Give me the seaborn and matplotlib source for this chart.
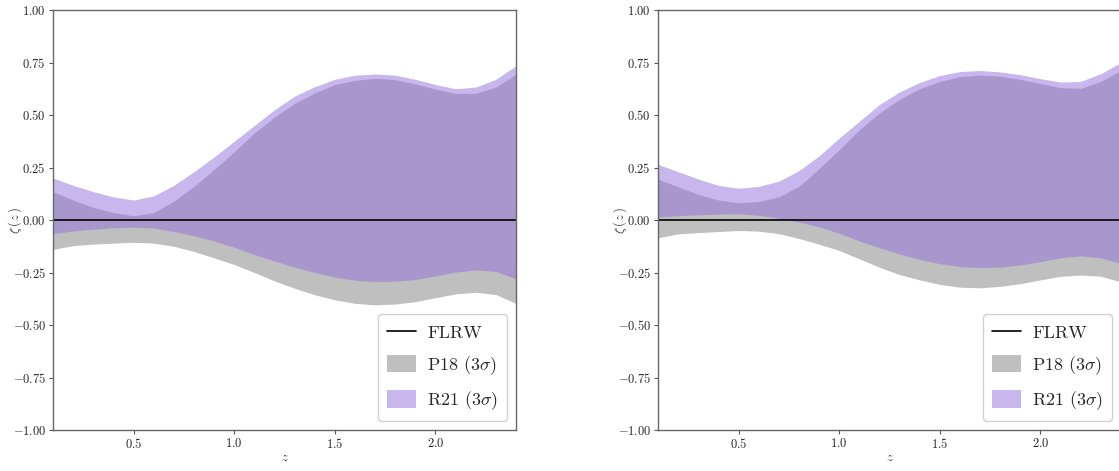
import numpy as np
import matplotlib
matplotlib.use("Agg")
import matplotlib.pyplot as plt
import seaborn as sns

# redshift grid
z = [0.1, 0.2, 0.3, 0.4, 0.5, 0.6, 0.7, 0.8, 0.9, 1.0, 1.1, 1.2,
     1.3, 1.4, 1.5, 1.6, 1.7, 1.8, 1.9, 2.0, 2.1, 2.2, 2.3, 2.4]
flrw = [0.0] * len(z)

# left panel
left_p18_lo = [-0.14, -0.122, -0.115, -0.11, -0.106, -0.11, -0.125, -0.15, -0.18, -0.212, -0.25, -0.29,
               -0.325, -0.356, -0.38, -0.397, -0.404, -0.40, -0.389, -0.37, -0.352, -0.344, -0.355, -0.397]
left_p18_hi = [0.135, 0.095, 0.06, 0.035, 0.02, 0.035, 0.09, 0.16, 0.24, 0.325, 0.415, 0.49,
               0.555, 0.605, 0.645, 0.665, 0.675, 0.668, 0.648, 0.623, 0.603, 0.603, 0.633, 0.695]
left_r21_lo = [-0.065, -0.052, -0.044, -0.037, -0.034, -0.038, -0.055, -0.075, -0.10, -0.13, -0.165, -0.195,
               -0.225, -0.25, -0.272, -0.287, -0.293, -0.292, -0.283, -0.266, -0.248, -0.238, -0.245, -0.28]
left_r21_hi = [0.20, 0.165, 0.135, 0.11, 0.095, 0.115, 0.165, 0.23, 0.30, 0.375, 0.45, 0.525,
               0.59, 0.635, 0.67, 0.69, 0.695, 0.69, 0.67, 0.645, 0.625, 0.633, 0.67, 0.735]

# right panel
right_p18_lo = [-0.085, -0.066, -0.06, -0.055, -0.05, -0.053, -0.065, -0.088, -0.115, -0.145, -0.185, -0.225,
                -0.26, -0.285, -0.307, -0.32, -0.323, -0.316, -0.303, -0.285, -0.268, -0.262, -0.268, -0.295]
right_p18_hi = [0.195, 0.158, 0.122, 0.095, 0.082, 0.088, 0.11, 0.16, 0.245, 0.335, 0.43, 0.51,
                0.575, 0.625, 0.66, 0.683, 0.69, 0.685, 0.67, 0.65, 0.63, 0.627, 0.66, 0.712]
right_r21_lo = [0.015, 0.02, 0.025, 0.028, 0.03, 0.022, 0.008, -0.01, -0.033, -0.063, -0.10, -0.132,
                -0.162, -0.188, -0.208, -0.222, -0.227, -0.224, -0.214, -0.198, -0.18, -0.171, -0.18, -0.208]
right_r21_hi = [0.265, 0.23, 0.195, 0.165, 0.151, 0.16, 0.185, 0.235, 0.305, 0.39, 0.47, 0.55,
                0.61, 0.655, 0.688, 0.707, 0.712, 0.705, 0.692, 0.673, 0.657, 0.66, 0.697, 0.75]

yticks = [-1.0, -0.75, -0.5, -0.25, 0.0, 0.25, 0.5, 0.75, 1.0]
xticks = [0.5, 1.0, 1.5, 2.0]

sns.set_style("ticks")
plt.rcParams["font.family"] = "serif"
plt.rcParams["font.serif"] = ["cmr10"]
plt.rcParams["mathtext.fontset"] = "cm"
plt.rcParams["axes.formatter.use_mathtext"] = True


def draw_panel(ax, p18_lo, p18_hi, r21_lo, r21_hi):
    ax.fill_between(z, p18_lo, p18_hi, color="gray", alpha=0.5, lw=0, label=r"P18 $(3\sigma)$")
    ax.fill_between(z, r21_lo, r21_hi, color="mediumpurple", alpha=0.5, lw=0, label=r"R21 $(3\sigma)$")
    sns.lineplot(x=z, y=flrw, color="black", lw=1.2, ax=ax, label="FLRW")
    ax.set_xlim(0.1, 2.4)
    ax.set_ylim(-1, 1)
    ax.set_xticks(xticks)
    ax.set_yticks(yticks)
    ax.tick_params(labelsize=9, length=3, pad=2, color="#555555")
    ax.set_xlabel(r"$z$", fontsize=9, labelpad=1)
    ax.set_ylabel(r"$\zeta\,(\,z\,)$", fontsize=9)
    ax.yaxis.set_label_coords(-0.062, 0.5)
    for sp in ax.spines.values():
        sp.set_color("#666666")
        sp.set_linewidth(1.0)
    h, l = ax.get_legend_handles_labels()
    order = [l.index("FLRW"), l.index(r"P18 $(3\sigma)$"), l.index(r"R21 $(3\sigma)$")]
    ax.legend([h[i] for i in order], [l[i] for i in order], loc="lower right",
              fontsize=13, handlelength=1.6, handleheight=1.1, labelspacing=0.7,
              frameon=True, fancybox=True, edgecolor="#d0d0d0", framealpha=1.0,
              borderpad=0.5, handletextpad=0.6)


fig = plt.figure(figsize=(11.19, 4.71), dpi=100)
ax1 = fig.add_axes([53 / 1119, 41 / 471, 463 / 1119, 420 / 471])
ax2 = fig.add_axes([658 / 1119, 41 / 471, 463 / 1119, 420 / 471])

draw_panel(ax1, left_p18_lo, left_p18_hi, left_r21_lo, left_r21_hi)
draw_panel(ax2, right_p18_lo, right_p18_hi, right_r21_lo, right_r21_hi)

fig.savefig("out.png", dpi=100)
